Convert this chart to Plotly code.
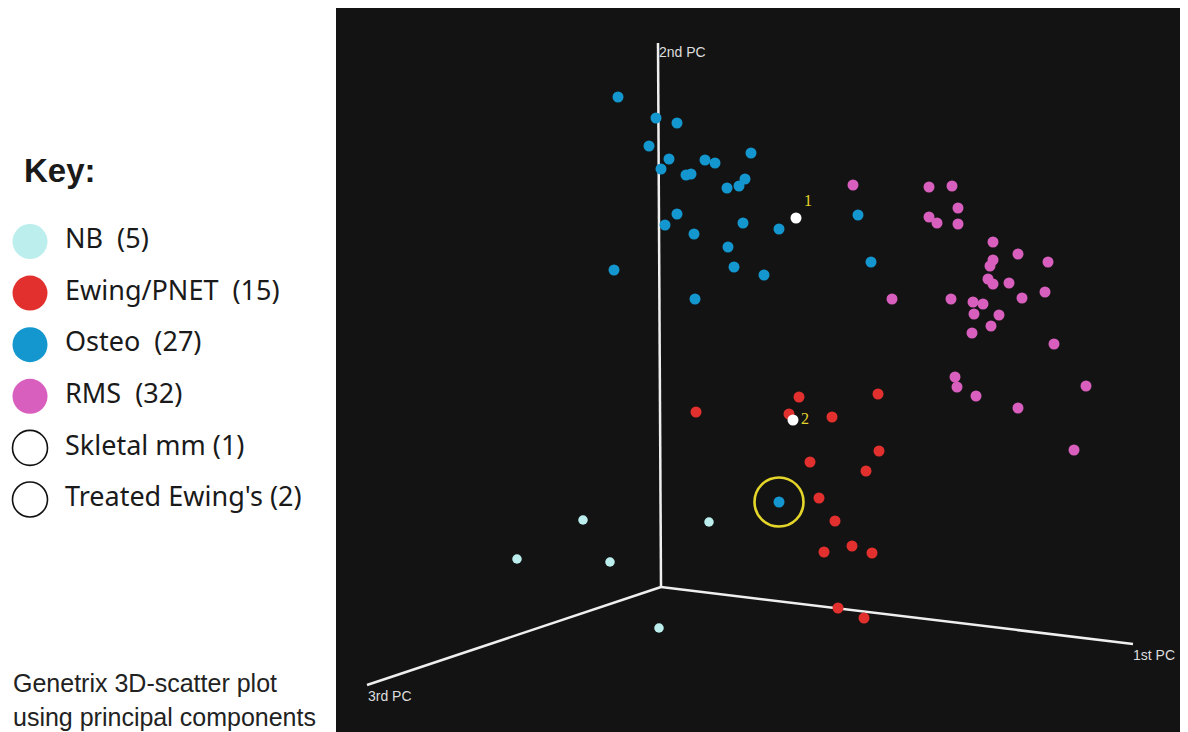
import plotly.graph_objects as go

# ---- data: projected (screen) coordinates of the 3D PCA scatter ----
nb_x = [583, 517, 610, 709, 659]
nb_y = [520, 559, 562, 522, 628]

ewing_x = [799, 878, 696, 789, 832, 879, 810, 866, 819, 835, 824, 852, 872, 838, 864]
ewing_y = [397, 394, 412, 414, 417, 451, 462, 471, 498, 521, 552, 546, 553, 608, 618]

osteo_x = [618, 656, 677, 649, 669, 705, 715, 751, 661, 686, 691, 745, 739, 727,
           677, 665, 743, 779, 694, 728, 614, 734, 764, 695, 858, 871, 779]
osteo_y = [97, 118, 123, 146, 159, 160, 163, 153, 169, 175, 174, 179, 186, 188,
           214, 225, 223, 229, 234, 247, 270, 267, 275, 299, 215, 262, 502]
osteo_highlight = 26  # circled sample

rms_x = [929, 952, 958, 929, 937, 958, 993, 1018, 993, 1048, 988, 993, 1009, 1045,
         951, 973, 983, 1022, 974, 999, 991, 972, 1054, 853, 892, 955, 957, 976,
         1018, 1086, 1074, 990]
rms_y = [187, 186, 208, 217, 223, 224, 242, 254, 260, 262, 279, 284, 283, 292,
         299, 302, 304, 298, 314, 315, 326, 333, 344, 185, 299, 377, 387, 396,
         408, 386, 450, 266]

white_x = [796, 793]
white_y = [218, 420]
white_labels = ["1", "2"]

axis_names = ["1st PC", "2nd PC", "3rd PC"]
axis_origin = (661, 587)
axis_end_x = [1133, 658, 367]
axis_end_y = [644, 43, 685]

key_labels = ["NB", "Ewing/PNET", "Osteo", "RMS", "Skletal mm", "Treated Ewing's"]
key_counts = [5, 15, 27, 32, 1, 2]
key_sep = ["  ", "  ", "  ", "  ", " ", " "]

# ---- styles ----
C_NB = "#bdeeee"
C_EW = "#e2302e"
C_OS = "#1496cf"
C_RMS = "#d85fbd"
C_WHITE = "#ffffff"
C_YEL = "#e4d52a"
PANEL = "#131313"

# the page body has an 8px margin; the figure is sized/ranged so that one
# axis unit equals one screen pixel measured from the window's corner
W, H, M = 1188, 732, 8

fig = go.Figure()

# PC axes lines
for nm, ex, ey in zip(axis_names, axis_end_x, axis_end_y):
    fig.add_trace(go.Scatter(x=[axis_origin[0], ex], y=[axis_origin[1], ey],
                             mode="lines", line=dict(color="#efefef", width=2.5),
                             hoverinfo="skip", xaxis="x", yaxis="y"))

def pts(x, y, color, size, name):
    fig.add_trace(go.Scatter(x=x, y=y, mode="markers", name=name,
                             marker=dict(color=color, size=size, line=dict(width=0)),
                             xaxis="x", yaxis="y"))

pts(nb_x, nb_y, C_NB, 9.5, "NB")
pts(osteo_x, osteo_y, C_OS, 11, "Osteo")
pts(rms_x, rms_y, C_RMS, 11, "RMS")
pts(ewing_x, ewing_y, C_EW, 11, "Ewing/PNET")

# white samples with yellow numbers
fig.add_trace(go.Scatter(x=white_x, y=white_y, mode="markers+text", text=white_labels,
                         textposition=["top right", "middle right"],
                         textfont=dict(family="Liberation Serif", size=16, color=C_YEL),
                         marker=dict(color=C_WHITE, size=11),
                         xaxis="x", yaxis="y"))

# highlight ring
fig.add_trace(go.Scatter(x=[osteo_x[osteo_highlight]], y=[osteo_y[osteo_highlight]],
                         mode="markers",
                         marker=dict(symbol="circle-open", size=49, color=C_YEL,
                                     line=dict(color=C_YEL, width=2.6)),
                         xaxis="x", yaxis="y"))

# key
key_colors = [C_NB, C_EW, C_OS, C_RMS, "rgba(0,0,0,0)", "rgba(0,0,0,0)"]
key_line = [0, 0, 0, 0, 1.6, 1.6]
key_text = [f"{l}{s}({c})" for l, s, c in zip(key_labels, key_sep, key_counts)]
fig.add_trace(go.Scatter(
    x=[0] * len(key_labels), y=key_labels, mode="markers",
    marker=dict(color=key_colors, size=35,
                line=dict(color="#111111", width=key_line)),
    xaxis="x2", yaxis="y2"))
fig.add_trace(go.Scatter(
    x=[35] * len(key_labels), y=key_labels, mode="text", text=key_text,
    textposition="middle right",
    textfont=dict(family="Comic Sans MS, Noto Sans, sans-serif", size=27, color="#1a1a1a"),
    xaxis="x2", yaxis="y2"))

ax_off = dict(visible=False, showgrid=False, zeroline=False, fixedrange=True)
row_px = 51.6
lo = -(241.5 - M) / row_px
hi = lo + (H - M) / row_px
fig.update_layout(
    width=W - M, height=H - M, autosize=False,
    margin=dict(l=0, r=0, t=0, b=0),
    paper_bgcolor="white", plot_bgcolor="rgba(0,0,0,0)",
    showlegend=False,
    xaxis=dict(domain=[0, 1], range=[M, W], **ax_off),
    yaxis=dict(domain=[0, 1], range=[H, M], **ax_off),
    xaxis2=dict(domain=[0, (336 - M) / (W - M)], range=[M - 30, 336 - 30], anchor="y2", **ax_off),
    yaxis2=dict(domain=[0, 1], range=[hi, lo], anchor="x2", type="category",
                categoryorder="array", categoryarray=key_labels, **ax_off),
    shapes=[dict(type="rect", xref="x", yref="y", x0=336, x1=W + 20, y0=8, y1=H + 20,
                 fillcolor=PANEL, line=dict(width=0), layer="below")],
    annotations=[
        dict(text="2nd PC", x=657, y=52, xref="x", yref="y", xanchor="left",
             yanchor="middle", showarrow=False,
             font=dict(family="Liberation Sans", size=14, color="#dddddd")),
        dict(text="1st PC", x=1131, y=655, xref="x", yref="y", xanchor="left",
             yanchor="middle", showarrow=False,
             font=dict(family="Liberation Sans", size=14, color="#dddddd")),
        dict(text="3rd PC", x=366, y=696, xref="x", yref="y", xanchor="left",
             yanchor="middle", showarrow=False,
             font=dict(family="Liberation Sans", size=14, color="#dddddd")),
        dict(text="<b>Key:</b>", x=22, y=170, xref="x", yref="y", xanchor="left",
             yanchor="middle", showarrow=False,
             font=dict(family="Liberation Sans", size=33, color="#1a1a1a")),
        dict(text="Genetrix 3D-scatter plot", x=11, y=683, xref="x", yref="y",
             xanchor="left", yanchor="middle", showarrow=False,
             font=dict(family="Liberation Sans", size=25, color="#222222")),
        dict(text="using principal components", x=11, y=717, xref="x", yref="y",
             xanchor="left", yanchor="middle", showarrow=False,
             font=dict(family="Liberation Sans", size=25, color="#222222")),
    ],
)

fig.write_html("out.html")
